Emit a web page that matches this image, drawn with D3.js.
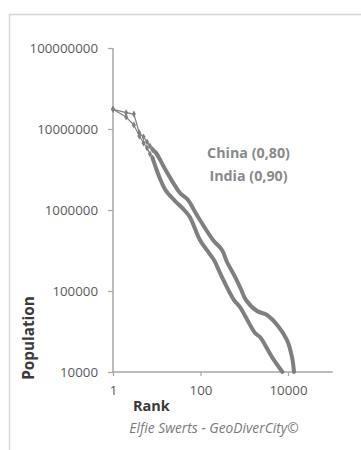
<!DOCTYPE html>
<html>
<head>
<meta charset="utf-8">
<script src="https://cdnjs.cloudflare.com/ajax/libs/d3/7.8.5/d3.min.js"></script>
<style>
  html, body { margin: 0; padding: 0; background: #fff; }
  figure { margin: 0; }
  svg { display: block; font-family: "Open Sans", Lato, sans-serif; }
</style>
</head>
<body>
<figure id="chart"></figure>
<script>
// rank-size data (rank, population)
const chinaRanks = [1, 2, 3, 4, 5, 6, 7, 8, 10, 15, 24, 34, 52, 71, 88, 193, 310, 403, 583, 800, 1096, 1955, 3313, 5905, 9485, 12340, 13710];
const chinaPops = [17.5e6, 15.9e6, 15.3e6, 8.9e6, 7.97e6, 6.91e6, 6.17e6, 5.6e6, 4.91e6, 3.3e6, 2.15e6, 1.62e6, 1.33e6, 1.0e6, 820e3, 427e3, 321e3, 228e3, 158e3, 112e3, 77.4e3, 56.6e3, 50.6e3, 37e3, 24.8e3, 15.3e3, 10e3];

const indiaRanks = [1, 2, 3, 4, 5, 6, 7, 8, 10, 12, 16, 26, 44, 57, 97, 139, 204, 279, 583, 800, 1762, 2290, 4305, 7480];
const indiaPops = [17.5e6, 14.06e6, 11.2e6, 8.2e6, 6.72e6, 5.82e6, 4.9e6, 4.4e6, 3.1e6, 2.4e6, 1.75e6, 1.3e6, 0.98e6, 820e3, 427e3, 321e3, 241e3, 167e3, 77.4e3, 63.4e3, 30.3e3, 27e3, 15.3e3, 10e3];

const xTicks = [1, 100, 10000];
const yTicks = [1e4, 1e5, 1e6, 1e7, 1e8];
const seriesLabels = ['China (0,80)', 'India (0,90)'];
const xTitle = 'Rank';
const yTitle = 'Population';
const credit = 'Elfie Swerts - GeoDiverCity\u00a9';

const width = 361;
const height = 450;
const lineColor = '#7f7f7f';
const axisColor = '#a6a6a6';
const textColor = '#595959';

const svg = d3.select('#chart')
  .append('svg')
  .attr('width', width)
  .attr('height', height);

// outer chart frame (only top and left edges visible)
svg.append('path')
  .attr('d', `M9.5,${height} V14.5 H${width}`)
  .attr('fill', 'none')
  .attr('stroke', '#d4d4d4')
  .attr('stroke-width', 1.5);

const x = d3.scaleLog().domain([1, 100000]).range([113, 331.75]);
const y = d3.scaleLog().domain([1e4, 1e8]).range([372, 48]);

function drawAxes() {
  const yAxis = svg.append('g')
    .attr('transform', `translate(${x(1)},0)`)
    .call(d3.axisLeft(y).tickValues(yTicks).tickFormat(d3.format('d')).tickSize(5).tickPadding(10));

  const xAxis = svg.append('g')
    .attr('transform', `translate(0,${y(1e4)})`)
    .call(d3.axisBottom(x).tickValues(xTicks).tickFormat(d3.format('d')).tickSize(4).tickPadding(10));

  [xAxis, yAxis].forEach(ax => {
    ax.select('.domain').attr('stroke', axisColor).attr('stroke-width', 1.5);
    ax.selectAll('.tick line').attr('stroke', axisColor).attr('stroke-width', 1.2);
    ax.selectAll('.tick text')
      .attr('fill', textColor)
      .attr('font-size', '13.3px')
      .attr('font-family', '"Open Sans", sans-serif');
  });
  // flat domain lines, no end ticks
  xAxis.select('.domain').attr('d', `M${x(1)},0H${x(100000) + 1}`);
  yAxis.select('.domain').attr('d', `M0,${y(1e8)}V${y(1e4)}`);
}

function drawSeries(ranks, pops) {
  const pts = ranks.map((r, i) => [r, pops[i]]);
  const g = svg.append('g');

  const thin = d3.line().x(d => x(d[0])).y(d => y(d[1]));
  const thick = d3.line().x(d => x(d[0])).y(d => y(d[1])).curve(d3.curveCatmullRom.alpha(0.5));

  g.append('path')
    .datum(pts.filter(d => d[0] <= 10))
    .attr('d', thin)
    .attr('fill', 'none')
    .attr('stroke', lineColor)
    .attr('stroke-width', 1.2);

  // dense markers merge into a thick band past rank ~8
  g.append('path')
    .datum(pts.filter(d => d[0] >= 8))
    .attr('d', thick)
    .attr('fill', 'none')
    .attr('stroke', lineColor)
    .attr('stroke-width', 4)
    .attr('stroke-linejoin', 'round')
    .attr('stroke-linecap', 'round');

  g.selectAll('.marker')
    .data(pts.filter(d => d[0] <= 10))
    .enter().append('path')
    .attr('class', 'marker')
    .attr('transform', d => `translate(${x(d[0])},${y(d[1])})`)
    .attr('d', d3.symbol(d3.symbolDiamond, 14))
    .attr('fill', lineColor);
}

function drawLabels() {
  svg.selectAll('.series-label')
    .data(seriesLabels)
    .enter().append('text')
    .attr('class', 'series-label')
    .attr('x', 248.5)
    .attr('y', (d, i) => 158 + i * 22.5)
    .attr('text-anchor', 'middle')
    .attr('font-size', '14.3px')
    .attr('font-weight', 'bold')
    .attr('fill', '#8a8a8a')
    .text(d => d);

  svg.append('text')
    .attr('x', 133)
    .attr('y', 411)
    .attr('font-size', '14.5px')
    .attr('font-weight', 'bold')
    .attr('fill', '#3a3a3a')
    .text(xTitle);

  svg.append('text')
    .attr('transform', 'translate(34,338) rotate(-90)')
    .attr('text-anchor', 'middle')
    .attr('font-size', '15.3px')
    .attr('font-weight', 'bold')
    .attr('fill', '#3a3a3a')
    .text(yTitle);

  svg.append('text')
    .attr('x', 214)
    .attr('y', 433)
    .attr('text-anchor', 'middle')
    .attr('font-size', '13.8px')
    .attr('font-style', 'italic')
    .attr('fill', '#7a7a7a')
    .text(credit);
}

drawAxes();
drawSeries(chinaRanks, chinaPops);
drawSeries(indiaRanks, indiaPops);
drawLabels();
</script>
</body>
</html>
